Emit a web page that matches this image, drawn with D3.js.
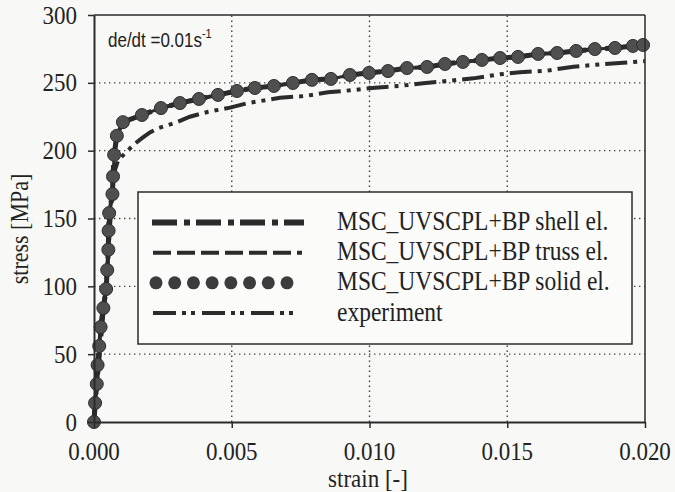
<!DOCTYPE html>
<html>
<head>
<meta charset="utf-8">
<script src="https://cdn.jsdelivr.net/npm/d3@7"></script>
<style>
body { margin: 0; background: #f8f8f6; }
svg { display: block; }
</style>
</head>
<body>
<svg id="chart" width="675" height="492"></svg>
<script>
// simulation curves (shell, truss and solid elements lie on the same curve)
var strainSolid = [0, 0.00004, 0.00010, 0.00013, 0.00019, 0.00024, 0.00034, 0.00044, 0.00048, 0.00052, 0.00053, 0.00055, 0.00067, 0.00069, 0.00073, 0.00083, 0.00105,
  0.00174, 0.00243, 0.00312, 0.00381, 0.00450, 0.00519, 0.00584, 0.00653, 0.00722, 0.00791, 0.00860, 0.00929, 0.00998, 0.01067, 0.01136, 0.01209,
  0.01274, 0.01339, 0.01408, 0.01474, 0.01539, 0.01612, 0.01681, 0.01750, 0.01818, 0.01891, 0.01956, 0.01993];
var stressSolid = [0, 14, 28, 42, 56, 70, 84, 98, 112, 127, 141, 154, 168, 181, 197, 211, 221,
  226.3, 231.4, 235.1, 238.1, 241.1, 244.0, 246.2, 247.7, 249.9, 252.2, 252.9, 255.8, 257.3, 258.7, 260.9, 261.7,
  263.9, 265.4, 266.9, 268.3, 269.1, 271.3, 272.0, 273.5, 274.9, 275.7, 277.2, 277.9];
var strainExp = [0, 0.00050, 0.00070, 0.00088, 0.00143, 0.00173, 0.00203, 0.00233, 0.00300, 0.00348, 0.00415, 0.00494, 0.00554, 0.00675, 0.00766,
  0.00849, 0.00941, 0.01020, 0.01117, 0.01195, 0.01292, 0.01377, 0.01474, 0.01546, 0.01643, 0.01740, 0.01843, 0.01921, 0.02000];
var stressExp = [0, 118, 182, 193.1, 204.2, 209.1, 213.5, 216.5, 220.9, 225.0, 228.7, 231.7, 234.9, 239.0, 240.3,
  243.0, 244.7, 246.4, 247.9, 249.7, 251.6, 253.3, 256.3, 257.8, 258.9, 261.9, 263.7, 264.8, 266.0];
var xTicks = [0, 0.005, 0.010, 0.015, 0.020];
var xTickLabels = ["0.000", "0.005", "0.010", "0.015", "0.020"];
var yTicks = [0, 50, 100, 150, 200, 250, 300];
var legendLabels = ["MSC_UVSCPL+BP shell el.", "MSC_UVSCPL+BP truss el.", "MSC_UVSCPL+BP solid el.", "experiment"];

var svg, x, y, solid, exper, line, grid, legend, rows, xAxis, yAxis, ink, serif;
svg = d3.select('#chart');
ink = '#2b2b2b';
serif = '"Liberation Serif", "Times New Roman", serif';
x = d3.scaleLinear().domain([0, 0.02]).range([94, 645]);
y = d3.scaleLinear().domain([0, 300]).range([422, 15]);

// the scanned original is a bit taller than wide, so text gets a vertical stretch
function label(parent, tx, ty, k, size, anchor, str, rot){
  return parent.append('text')
    .attr('transform', 'translate(' + tx + ',' + ty + ')' + (rot ? ' rotate(' + rot + ')' : '') + ' scale(1,' + k + ')')
    .attr('text-anchor', anchor).attr('font-family', serif).attr('font-size', size).attr('fill', '#222')
    .text(str);
}

solid = strainSolid.map(function(s, i){ return [s, stressSolid[i]]; });
exper = strainExp.map(function(s, i){ return [s, stressExp[i]]; });
line = d3.line().x(function(d){ return x(d[0]); }).y(function(d){ return y(d[1]); });

// dotted grid
grid = svg.append('g').attr('stroke', '#444').attr('stroke-width', 1.4).attr('stroke-dasharray', '1.4,3.6');
grid.selectAll('line.gx').data(xTicks.slice(1, -1)).enter().append('line')
  .attr('x1', function(d){ return x(d); }).attr('x2', function(d){ return x(d); })
  .attr('y1', y(0)).attr('y2', y(300));
grid.selectAll('line.gy').data(yTicks.slice(1, -1)).enter().append('line')
  .attr('y1', function(d){ return y(d); }).attr('y2', function(d){ return y(d); })
  .attr('x1', x(0)).attr('x2', x(0.02));

// legend box (covers the grid)
legend = svg.append('g');
legend.append('rect').attr('x', 138).attr('y', 192).attr('width', 494).attr('height', 152)
  .attr('fill', '#fbfbfa').attr('stroke', ink).attr('stroke-width', 1.5);
rows = d3.scalePoint().domain(legendLabels).range([222.5, 313]);
legendLabels.forEach(function(d){
  label(legend, 337, rows(d) + 7.5, 1.2, 23.5, 'start', d);
});
legend.append('line').attr('x1', 152).attr('x2', 304).attr('y1', rows(legendLabels[0])).attr('y2', rows(legendLabels[0]))
  .attr('stroke', ink).attr('stroke-width', 6).attr('stroke-dasharray', '25,7,6,6');
legend.append('line').attr('x1', 153).attr('x2', 302).attr('y1', rows(legendLabels[1])).attr('y2', rows(legendLabels[1]))
  .attr('stroke', ink).attr('stroke-width', 4).attr('stroke-dasharray', '18,6');
legend.selectAll('circle').data(d3.range(8)).enter().append('circle')
  .attr('cx', d3.scaleLinear().domain([0, 7]).range([156, 287])).attr('cy', rows(legendLabels[2])).attr('r', 6.5)
  .attr('fill', '#3c3c3c');
legend.append('line').attr('x1', 153).attr('x2', 294).attr('y1', rows(legendLabels[3])).attr('y2', rows(legendLabels[3]))
  .attr('stroke', ink).attr('stroke-width', 4).attr('stroke-dasharray', '23,6,4,5,4,7');

// curves
svg.append('path').datum(exper).attr('d', line).attr('fill', 'none')
  .attr('stroke', ink).attr('stroke-width', 4).attr('stroke-dasharray', '22,6,4,6,4,6');
svg.append('path').datum(solid).attr('d', line).attr('fill', 'none')
  .attr('stroke', ink).attr('stroke-width', 5).attr('stroke-dasharray', '25,7,6,6');
svg.append('path').datum(solid).attr('d', line).attr('fill', 'none')
  .attr('stroke', ink).attr('stroke-width', 4).attr('stroke-dasharray', '18,6');
svg.append('path').datum(solid).attr('d', line).attr('fill', 'none')
  .attr('stroke', ink).attr('stroke-width', 3);
svg.append('g').selectAll('circle').data(solid).enter().append('circle')
  .attr('cx', function(d){ return x(d[0]); }).attr('cy', function(d){ return y(d[1]); })
  .attr('r', 6.5).attr('fill', '#4f4f4f').attr('stroke', '#2e2e2e').attr('stroke-width', 1);

// frame
svg.append('line').attr('x1', x(0)).attr('x2', x(0.02)).attr('y1', y(300)).attr('y2', y(300)).attr('stroke', ink).attr('stroke-width', 1.5);
svg.append('line').attr('x1', x(0.02)).attr('x2', x(0.02)).attr('y1', y(300)).attr('y2', y(0)).attr('stroke', ink).attr('stroke-width', 1.5);

// axes (tick labels drawn separately so they can be stretched)
xAxis = svg.append('g').attr('transform', 'translate(0,' + y(0) + ')')
  .call(d3.axisBottom(x).tickValues(xTicks).tickFormat('').tickSize(6).tickSizeOuter(0));
yAxis = svg.append('g').attr('transform', 'translate(' + x(0) + ',0)')
  .call(d3.axisLeft(y).tickValues(yTicks).tickFormat('').tickSize(6).tickSizeOuter(0));
[xAxis, yAxis].forEach(function(a){
  a.select('.domain').attr('stroke', ink).attr('stroke-width', 2);
  a.selectAll('.tick line').attr('stroke', ink).attr('stroke-width', 1.5);
});
xTicks.forEach(function(d, i){
  label(svg, x(d), 460, 1.1, 23, 'middle', xTickLabels[i]);
});
yTicks.forEach(function(d){
  label(svg, 77, y(d) + 8.5, 1.1, 23, 'end', d);
});

// titles
label(svg, 368, 487, 1.1, 23, 'middle', 'strain [-]');
label(svg, 28, 229, 1.12, 22, 'middle', 'stress [MPa]', -90);

// strain rate note
var note = svg.append('text').attr('transform', 'translate(108,47) scale(1,1.15)')
  .attr('font-family', '"Liberation Sans", Arial, sans-serif').attr('font-size', 17).attr('fill', '#222');
note.append('tspan').text('de/dt =0.01s');
note.append('tspan').attr('font-size', 11).attr('dy', -8).text('-1');
</script>
</body>
</html>
